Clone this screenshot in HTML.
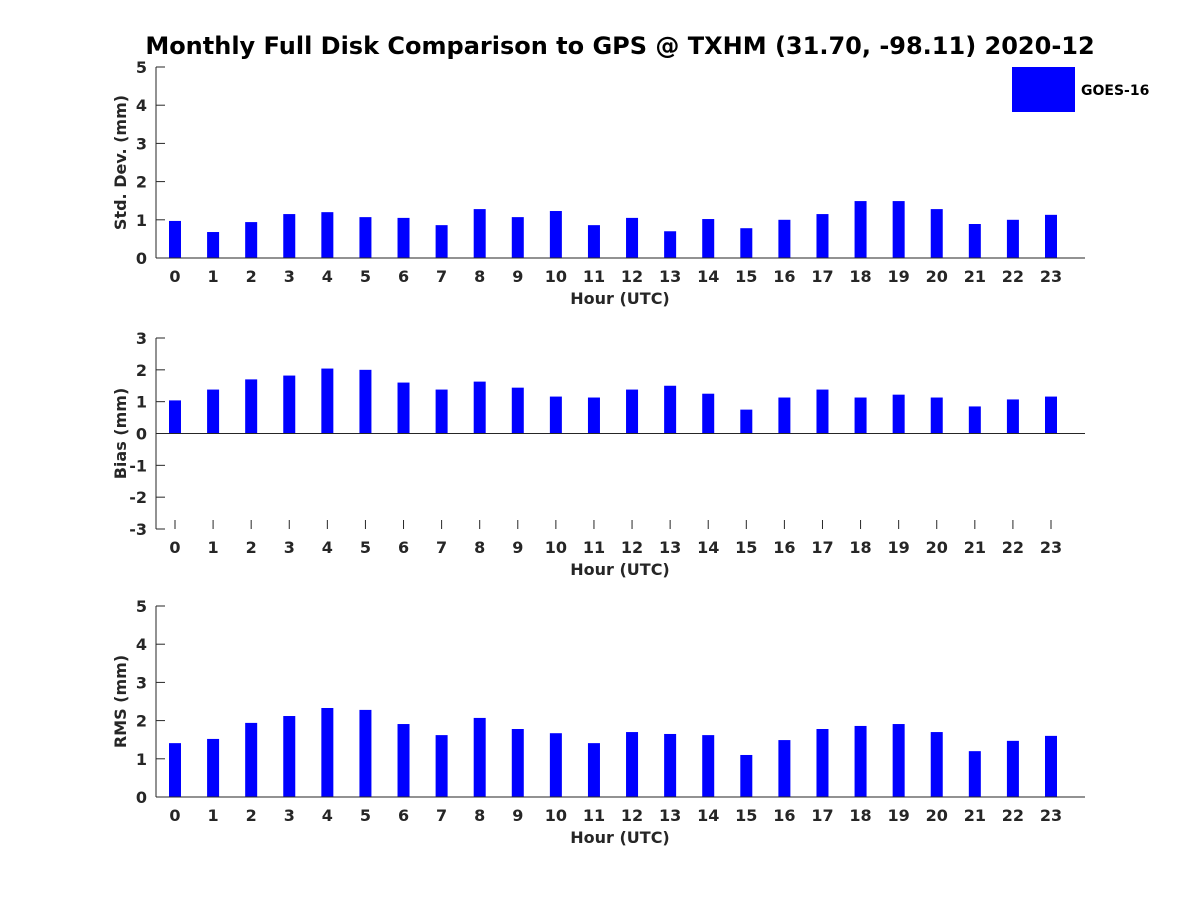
<!DOCTYPE html>
<html><head><meta charset="utf-8"><style>
body{margin:0;background:#fff}
svg text{font-family:"DejaVu Sans","Liberation Sans",sans-serif;font-weight:bold;fill:#262626}
</style></head><body>
<svg id="chart" width="1200" height="900" xmlns="http://www.w3.org/2000/svg">
<rect width="1200" height="900" fill="#fff"/>
<text x="620" y="54" text-anchor="middle" font-size="24" style="fill:#000">Monthly Full Disk Comparison to GPS @ TXHM (31.70, -98.11) 2020-12</text>
<rect x="1012" y="67" width="63" height="45" fill="#0000ff"/>
<text x="1081" y="95" font-size="14" style="fill:#000">GOES-16</text>
</svg>
<script>
const hours=[0,1,2,3,4,5,6,7,8,9,10,11,12,13,14,15,16,17,18,19,20,21,22,23];
const stdDev=[0.97,0.68,0.94,1.15,1.2,1.07,1.05,0.86,1.28,1.07,1.23,0.86,1.05,0.7,1.02,0.78,1.0,1.15,1.49,1.49,1.28,0.89,1.0,1.13];
const bias=[1.04,1.38,1.7,1.82,2.04,2.0,1.6,1.38,1.63,1.44,1.16,1.13,1.38,1.5,1.25,0.75,1.13,1.38,1.13,1.22,1.13,0.85,1.07,1.16];
const rms=[1.41,1.52,1.94,2.12,2.33,2.28,1.91,1.62,2.07,1.78,1.67,1.41,1.7,1.65,1.62,1.1,1.49,1.78,1.86,1.91,1.7,1.2,1.47,1.6];
const stdTicks=[0,1,2,3,4,5];
const biasTicks=[-3,-2,-1,0,1,2,3];
const rmsTicks=[0,1,2,3,4,5];
const NS="http://www.w3.org/2000/svg";
const svg=document.getElementById('chart');
function mk(tag,attrs,parent){const e=document.createElementNS(NS,tag);for(const k in attrs)e.setAttribute(k,attrs[k]);(parent||svg).appendChild(e);return e;}
function panel(key,vals,ticks,yMin,yMax,top,bottom,ylabel){
  const g=mk('g',{});
  
  
  const L=156,R=1085;
  const x=h=>175+h*(1051-175)/23;
  const y=v=>bottom-(v-yMin)*(bottom-top)/(yMax-yMin);
  const zeroY=y(Math.max(0,yMin));
  hours.forEach(h=>{
    mk('line',{x1:x(h),x2:x(h),y1:bottom,y2:bottom-9,stroke:'#262626'},g);
    const tx=mk('text',{x:x(h),y:bottom+24,'text-anchor':'middle','font-size':16},g);
    tx.textContent=h;
    
    
  });
  vals.forEach((v,i)=>{
    const b=mk('rect',{x:x(hours[i])-6,width:12,y:Math.min(y(v),zeroY),height:Math.abs(zeroY-y(v)),fill:'#0000ff'},g);
    
    
  });
  const ax=mk('line',{x1:L,x2:L,y1:top,y2:bottom,stroke:'#262626','stroke-width':1},g);
  
  
  const xl=mk('line',{x1:L,x2:R,y1:zeroY,y2:zeroY,stroke:'#262626','stroke-width':1},g);
  
  
  ticks.forEach(t=>{
    mk('line',{x1:L,x2:L+9,y1:y(t),y2:y(t),stroke:'#262626'},g);
    const tx=mk('text',{x:L-9,y:y(t)+6,'text-anchor':'end','font-size':16},g);
    tx.textContent=t;
    
    
  });
  const xt=mk('text',{x:620,y:bottom+46,'text-anchor':'middle','font-size':16},g);
  xt.textContent='Hour (UTC)';
  
  
  const cy=(top+bottom)/2;
  const yt=mk('text',{x:126,y:cy,'text-anchor':'middle','font-size':16,transform:'rotate(-90 126 '+cy+')'},g);
  yt.textContent=ylabel;
  
  
}
panel('std-dev',stdDev,stdTicks,0,5,67,258,'Std. Dev. (mm)');
panel('bias',bias,biasTicks,-3,3,338,529,'Bias (mm)');
panel('rms',rms,rmsTicks,0,5,606,797,'RMS (mm)');
</script>
</body></html>
